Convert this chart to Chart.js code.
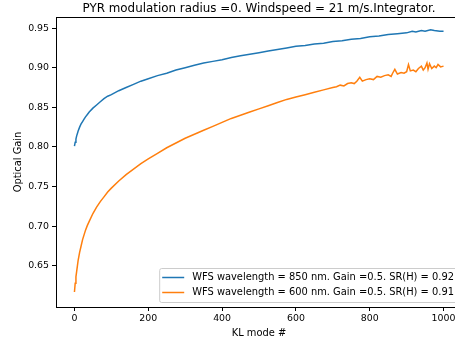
<!DOCTYPE html>
<html>
<head>
<meta charset="utf-8">
<script src="https://cdn.jsdelivr.net/npm/chart.js@4.4.1/dist/chart.umd.min.js"></script>
<style>
  html, body { margin: 0; padding: 0; background: #fff; overflow: hidden; }
  #wrap { width: 455px; height: 339px; overflow: hidden; position: relative; }
  #box { width: 475px; height: 339px; position: absolute; left: 0; top: 0; }
</style>
</head>
<body>
<div id="wrap"><div id="box"><canvas id="c"></canvas></div></div>
<script>
const chartTitle = "PYR modulation radius =0. Windspeed = 21 m/s.Integrator.";
const xTitle = "KL mode #";
const yTitle = "Optical Gain";
const seriesLabels = [
  "WFS wavelength = 850 nm. Gain =0.5. SR(H) = 0.92",
  "WFS wavelength = 600 nm. Gain =0.5. SR(H) = 0.91"
];
const xTicks = [0, 200, 400, 600, 800, 1000];
const yTicks = [0.65, 0.70, 0.75, 0.80, 0.85, 0.90, 0.95];

const modes850 = [0,2,4,6,8,10,14,18,22,26,30,35,40,50,60,70,80,90,100,120,140,160,180,200,225,250,275,300,325,350,375,400,425,450,475,500,525,550,575,600,625,650,675,700,725,750,775,800,825,850,875,900,915,925,940,950,965,975,990,1000];
const gain850 = [0.801,0.806,0.810,0.814,0.817,0.820,0.825,0.829,0.832,0.835,0.838,0.841,0.844,0.849,0.853,0.857,0.861,0.864,0.866,0.871,0.875,0.879,0.883,0.886,0.890,0.893,0.897,0.900,0.903,0.906,0.908,0.910,0.913,0.915,0.917,0.919,0.921,0.923,0.925,0.927,0.928,0.930,0.931,0.933,0.934,0.936,0.937,0.939,0.940,0.942,0.943,0.944,0.946,0.945,0.947,0.946,0.948,0.947,0.946,0.946];

const modes600 = [0,2,4,6,8,10,14,18,22,26,30,35,40,50,60,70,80,90,100,120,140,160,180,200,225,250,275,300,325,350,375,400,425,450,475,500,525,550,575,600,625,650,675,700,710,720,730,740,750,758,765,773,780,790,800,810,820,830,840,850,858,862,868,875,885,893,900,905,910,918,925,932,940,945,950,955,958,962,968,975,980,985,992,1000];
const gain600 = [0.617,0.628,0.636,0.643,0.650,0.657,0.667,0.675,0.683,0.689,0.695,0.701,0.706,0.716,0.724,0.731,0.737,0.743,0.748,0.757,0.765,0.772,0.779,0.785,0.792,0.799,0.805,0.811,0.816,0.821,0.826,0.831,0.836,0.840,0.844,0.848,0.852,0.856,0.860,0.863,0.866,0.869,0.872,0.875,0.876,0.878,0.877,0.880,0.881,0.880,0.883,0.888,0.883,0.885,0.886,0.885,0.889,0.888,0.890,0.891,0.889,0.893,0.898,0.892,0.894,0.893,0.895,0.904,0.896,0.897,0.895,0.899,0.902,0.897,0.900,0.906,0.898,0.905,0.899,0.902,0.900,0.904,0.901,0.902];

const FONT = "'DejaVu Sans', sans-serif";

const framePlugin = {
  id: 'frame',
  afterDraw(chart) {
    const a = chart.chartArea, ctx = chart.ctx;
    ctx.save();
    ctx.strokeStyle = '#000';
    ctx.lineWidth = 1;
    ctx.strokeRect(Math.round(a.left) + 0.5, Math.round(a.top) + 0.5, Math.round(a.right - a.left), Math.round(a.bottom - a.top));
    ctx.fillStyle = '#000';
    ctx.font = "11.9px " + FONT;
    ctx.textAlign = 'center';
    ctx.textBaseline = 'middle';
    ctx.fillText(chartTitle, (a.left + a.right) / 2, 8.5);
    ctx.restore();
  }
};

const legendPlugin = {
  id: 'boxLegend',
  afterDraw(chart) {
    const ctx = chart.ctx, a = chart.chartArea;
    ctx.save();
    ctx.font = "9.9px " + FONT;
    const ds = chart.data.datasets;
    let maxW = 0;
    ds.forEach(d => { maxW = Math.max(maxW, ctx.measureText(d.label).width); });
    const lineLen = 22, gap = 8, padX = 3;
    const w = padX + lineLen + gap + maxW + padX;
    const h = 34;
    const x0 = a.right - 5 - w, y0 = a.bottom - 5 - h;
    ctx.fillStyle = 'rgba(255,255,255,0.8)';
    ctx.strokeStyle = '#cccccc';
    ctx.lineWidth = 1;
    ctx.beginPath();
    if (ctx.roundRect) ctx.roundRect(x0 + 0.5, y0 + 0.5, w, h, 2); else ctx.rect(x0 + 0.5, y0 + 0.5, w, h);
    ctx.fill(); ctx.stroke();
    ds.forEach((d, i) => {
      const yy = y0 + 9.5 + i * 15;
      ctx.strokeStyle = d.borderColor;
      ctx.lineWidth = 1.5;
      ctx.beginPath();
      ctx.moveTo(x0 + padX, yy); ctx.lineTo(x0 + padX + lineLen, yy);
      ctx.stroke();
      ctx.fillStyle = '#000';
      ctx.textBaseline = 'middle';
      ctx.fillText(d.label, x0 + padX + lineLen + gap, yy);
    });
    ctx.restore();
  }
};

new Chart(document.getElementById('c'), {
  type: 'line',
  data: {
    datasets: [
      { label: seriesLabels[0], data: modes850.map((m, i) => ({ x: m, y: gain850[i] })),
        borderColor: '#1f77b4', backgroundColor: '#1f77b4', borderWidth: 1.5, pointRadius: 0, tension: 0 },
      { label: seriesLabels[1], data: modes600.map((m, i) => ({ x: m, y: gain600[i] })),
        borderColor: '#ff7f0e', backgroundColor: '#ff7f0e', borderWidth: 1.5, pointRadius: 0, tension: 0 }
    ]
  },
  options: {
    responsive: true,
    maintainAspectRatio: false,
    animation: false,
    layout: { padding: { left: 0, right: 13, top: 17, bottom: 0 } },
    plugins: {
      legend: { display: false },
      tooltip: { enabled: false },
      title: { display: false }
    },
    scales: {
      x: {
        type: 'linear', min: -50, max: 1050,
        afterBuildTicks: s => { s.ticks = xTicks.map(v => ({ value: v })); },
        afterFit: s => { s.height = 32; },
        grid: { drawOnChartArea: false, drawTicks: true, tickLength: 4, color: '#000', lineWidth: 1 },
        border: { display: true, color: '#000', width: 1 },
        ticks: { color: '#000', font: { family: FONT, size: 9.4 }, padding: 2, maxRotation: 0, callback: v => String(v) },
        title: { display: true, text: xTitle, color: '#000', font: { family: FONT, size: 9.9 }, padding: { top: 1, bottom: 0 } }
      },
      y: {
        type: 'linear', min: 0.598, max: 0.964,
        afterBuildTicks: s => { s.ticks = yTicks.map(v => ({ value: v })); },
        afterFit: s => { s.width = 56; },
        grid: { drawOnChartArea: false, drawTicks: true, tickLength: 4, color: '#000', lineWidth: 1 },
        border: { display: true, color: '#000', width: 1 },
        ticks: { color: '#000', font: { family: FONT, size: 9.4 }, padding: 3, callback: v => v.toFixed(2) },
        title: { display: true, text: yTitle, color: '#000', font: { family: FONT, size: 9.9 }, padding: { top: 12, bottom: 0 } }
      }
    }
  },
  plugins: [framePlugin, legendPlugin]
});
</script>
</body>
</html>
